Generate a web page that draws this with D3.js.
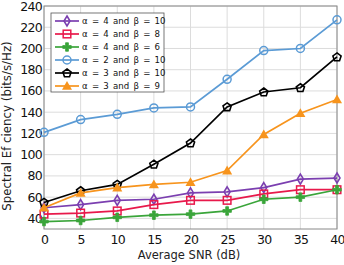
<!DOCTYPE html>
<html>
<head>
<meta charset="utf-8">
<title>Spectral efficiency vs SNR</title>
<script src="https://d3js.org/d3.v7.min.js"></script>
<style>
  body { margin: 0; background: #fff; }
  text { font-family: "DejaVu Sans", sans-serif; }
</style>
</head>
<body>
<script>
// data
var snr = [0, 5, 10, 15, 20, 25, 30, 35, 40];
var seriesNames = ["α = 4 and β = 10", "α = 4 and β = 8", "α = 4 and β = 6",
                   "α = 2 and β = 10", "α = 3 and β = 10", "α = 3 and β = 9"];
var a4b10 = [50, 53, 57, 58, 64, 65, 69, 77, 78];
var a4b8  = [44, 45, 47, 53, 57, 57, 63, 67, 67];
var a4b6  = [37, 38, 41, 43, 44, 47, 58, 60, 67];
var a2b10 = [121, 133, 138, 144, 145, 171, 198, 200, 227];
var a3b10 = [55, 66, 72, 91, 111, 145, 159, 163, 192];
var a3b9  = [50, 64, 69, 72, 74, 85, 119, 139, 152];
var xTicks = [0, 5, 10, 15, 20, 25, 30, 35, 40];
var yTicks = [40, 60, 80, 100, 120, 140, 160, 180, 200, 220, 240];

var allSeries = [a4b10, a4b8, a4b6, a2b10, a3b10, a3b9];
var colors = ["#7b3fb0", "#e8194b", "#3aa53a", "#5b9bd5", "#000000", "#f7941d"];
var shapes = ["diamond", "square", "plus", "circle", "pentagon", "triangle"];

var width = 344, height = 265;
var pLeft = 44, pRight = 337, pTop = 6, pBottom = 229;

var svg = d3.select("body").append("svg").attr("width", width).attr("height", height);

var x = d3.scaleLinear().domain([0, 40]).range([pLeft, pRight]);
var y = d3.scaleLinear().domain([30, 240]).range([pBottom, pTop]);

// grid
svg.append("g").selectAll("line").data(xTicks).enter().append("line")
  .attr("x1", function(d) { return x(d); }).attr("x2", function(d) { return x(d); })
  .attr("y1", pTop).attr("y2", pBottom)
  .attr("stroke", "#dcdcdc").attr("stroke-width", 1);
svg.append("g").selectAll("line").data(yTicks).enter().append("line")
  .attr("x1", pLeft).attr("x2", pRight)
  .attr("y1", function(d) { return y(d); }).attr("y2", function(d) { return y(d); })
  .attr("stroke", "#dcdcdc").attr("stroke-width", 1);

// axes
var xAxis = svg.append("g").attr("transform", "translate(0," + pBottom + ")")
  .call(d3.axisBottom(x).tickValues(xTicks).tickSize(0).tickPadding(6));
var yAxis = svg.append("g").attr("transform", "translate(" + pLeft + ",0)")
  .call(d3.axisLeft(y).tickValues(yTicks).tickSize(0).tickPadding(2));
[xAxis, yAxis].forEach(function(a) {
  a.select(".domain").remove();
  a.selectAll("text").attr("font-size", 12.5).attr("fill", "#111")
    .attr("font-family", "DejaVu Sans").attr("letter-spacing", -0.7);
});

svg.append("rect").attr("x", pLeft).attr("y", pTop)
  .attr("width", pRight - pLeft).attr("height", pBottom - pTop)
  .attr("fill", "none").attr("stroke", "#888").attr("stroke-width", 1);

// labels
svg.append("text").attr("x", 189).attr("y", 259)
  .attr("text-anchor", "middle").attr("font-size", 11.5).attr("fill", "#222")
  .text("Average SNR (dB)");
svg.append("text").attr("transform", "translate(11,126) rotate(-90)")
  .attr("text-anchor", "middle").attr("font-size", 11.8).attr("fill", "#222")
  .text("Spectral Ef ciency (bits/s/Hz)");

function marker(g, shape, color) {
  if (shape === "circle") {
    g.append("circle").attr("r", 4).attr("fill", "none").attr("stroke", color).attr("stroke-width", 1.5);
  } else if (shape === "square") {
    g.append("rect").attr("x", -3.8).attr("y", -3.8).attr("width", 7.6).attr("height", 7.6)
      .attr("fill", "none").attr("stroke", color).attr("stroke-width", 1.5);
  } else if (shape === "diamond") {
    g.append("path").attr("d", "M0,-5L3,0L0,5L-3,0Z")
      .attr("fill", "none").attr("stroke", color).attr("stroke-width", 1.6);
  } else if (shape === "plus") {
    g.append("path").attr("d", d3.symbol(d3.symbolCross, 40)())
      .attr("fill", color).attr("stroke", color).attr("stroke-width", 0.8);
  } else if (shape === "pentagon") {
    var pts = d3.range(5).map(function(i) {
      var a = -Math.PI / 2 + i * 2 * Math.PI / 5;
      return [4.3 * Math.cos(a), 4.3 * Math.sin(a) + 0.3];
    });
    g.append("path").attr("d", "M" + pts.join("L") + "Z")
      .attr("fill", "none").attr("stroke", color).attr("stroke-width", 1.6);
  } else if (shape === "triangle") {
    g.append("path").attr("d", "M0,-5L5,3.8L-5,3.8Z").attr("fill", color);
  }
}

var line = d3.line().x(function(d, i) { return x(snr[i]); }).y(function(d) { return y(d); });

allSeries.forEach(function(vals, k) {
  var g = svg.append("g");
  g.append("path").datum(vals).attr("d", line)
    .attr("fill", "none").attr("stroke", colors[k]).attr("stroke-width", 1.7);
  vals.forEach(function(v, i) {
    var m = g.append("g").attr("transform", "translate(" + x(snr[i]) + "," + y(v) + ")");
    marker(m, shapes[k], colors[k]);
  });
});

// legend
var lg = svg.append("g");
lg.append("rect").attr("x", 51).attr("y", 13).attr("width", 113).attr("height", 79)
  .attr("fill", "#fff").attr("stroke", "#555").attr("stroke-width", 0.8);
seriesNames.forEach(function(name, k) {
  var ly = 21 + k * 13;
  lg.append("line").attr("x1", 55).attr("x2", 79).attr("y1", ly).attr("y2", ly)
    .attr("stroke", colors[k]).attr("stroke-width", 1.7);
  var m = lg.append("g").attr("transform", "translate(67," + ly + ")");
  marker(m, shapes[k], colors[k]);
  lg.append("text").attr("x", 82).attr("y", ly + 3.2).attr("font-size", 8.6)
    .attr("fill", "#111").attr("word-spacing", 1.5)
    .text(name);
});
</script>
</body>
</html>
